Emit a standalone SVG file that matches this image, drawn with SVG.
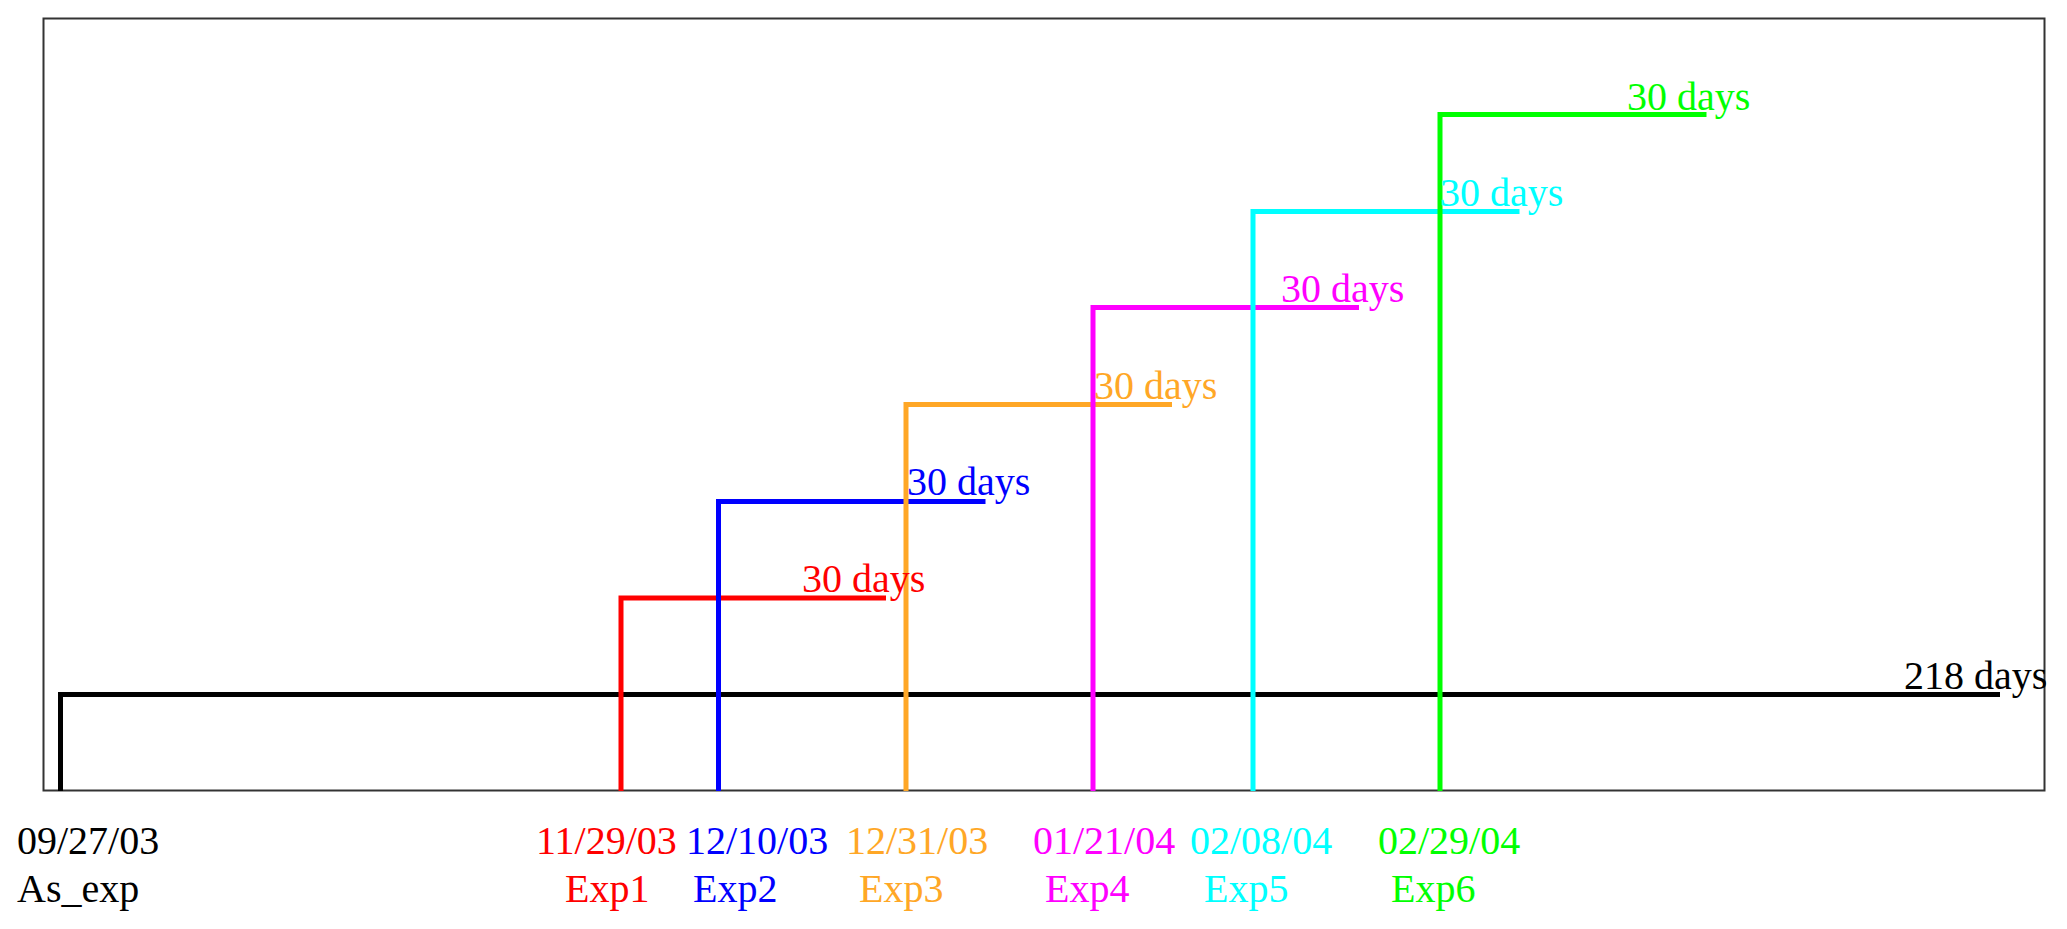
<svg xmlns="http://www.w3.org/2000/svg" width="2067" height="929" viewBox="0 0 2067 929">
<style>
text{font-family:"Liberation Serif","Times New Roman",serif;font-size:40px}
.ln{fill:none;stroke-width:5;stroke-linejoin:miter;stroke-linecap:butt}
.k{stroke:#000}.kt{fill:#000}
.r{stroke:#ff0000}.rt{fill:#ff0000}
.b{stroke:#0000ff}.bt{fill:#0000ff}
.o{stroke:#ffa726}.ot{fill:#ffa726}
.m{stroke:#ff00ff}.mt{fill:#ff00ff}
.c{stroke:#00ffff}.ct{fill:#00ffff}
.g{stroke:#00ff00}.gt{fill:#00ff00}
</style>
<rect id="frame" x="43.5" y="18.5" width="2001" height="772" fill="#fff" stroke="#333" stroke-width="2"/>
<g id="connectors">
<polyline class="ln k" points="60.5,791 60.5,694.5 2000,694.5" stroke-width="5.5"/>
<polyline class="ln r" points="621,791 621,598 886,598"/>
<polyline class="ln b" points="718.5,791 718.5,501.5 985.5,501.5"/>
<polyline class="ln o" points="906,791 906,404.5 1172,404.5"/>
<polyline class="ln m" points="1093,791 1093,307.5 1359,307.5"/>
<polyline class="ln c" points="1253,791 1253,211.5 1519.5,211.5"/>
<polyline class="ln g" points="1440,791 1440,114.5 1706.5,114.5"/>
</g>
<g id="as_exp">
<text class="kt" x="17" y="854">09/27/03</text>
<text class="kt" x="17" y="902">As_exp</text>
<text class="kt" x="1904" y="689">218 days</text>
</g>
<g id="exp1">
<text class="rt" x="536" y="854">11/29/03</text>
<text class="rt" x="565" y="902">Exp1</text>
<text class="rt" x="802" y="592">30 days</text>
</g>
<g id="exp2">
<text class="bt" x="686" y="854">12/10/03</text>
<text class="bt" x="693" y="902">Exp2</text>
<text class="bt" x="907" y="495">30 days</text>
</g>
<g id="exp3">
<text class="ot" x="846" y="854">12/31/03</text>
<text class="ot" x="859" y="902">Exp3</text>
<text class="ot" x="1094" y="399">30 days</text>
</g>
<g id="exp4">
<text class="mt" x="1033" y="854">01/21/04</text>
<text class="mt" x="1045" y="902">Exp4</text>
<text class="mt" x="1281" y="302">30 days</text>
</g>
<g id="exp5">
<text class="ct" x="1190" y="854">02/08/04</text>
<text class="ct" x="1204" y="902">Exp5</text>
<text class="ct" x="1440" y="206">30 days</text>
</g>
<g id="exp6">
<text class="gt" x="1378" y="854">02/29/04</text>
<text class="gt" x="1391" y="902">Exp6</text>
<text class="gt" x="1627" y="110">30 days</text>
</g>
</svg>
